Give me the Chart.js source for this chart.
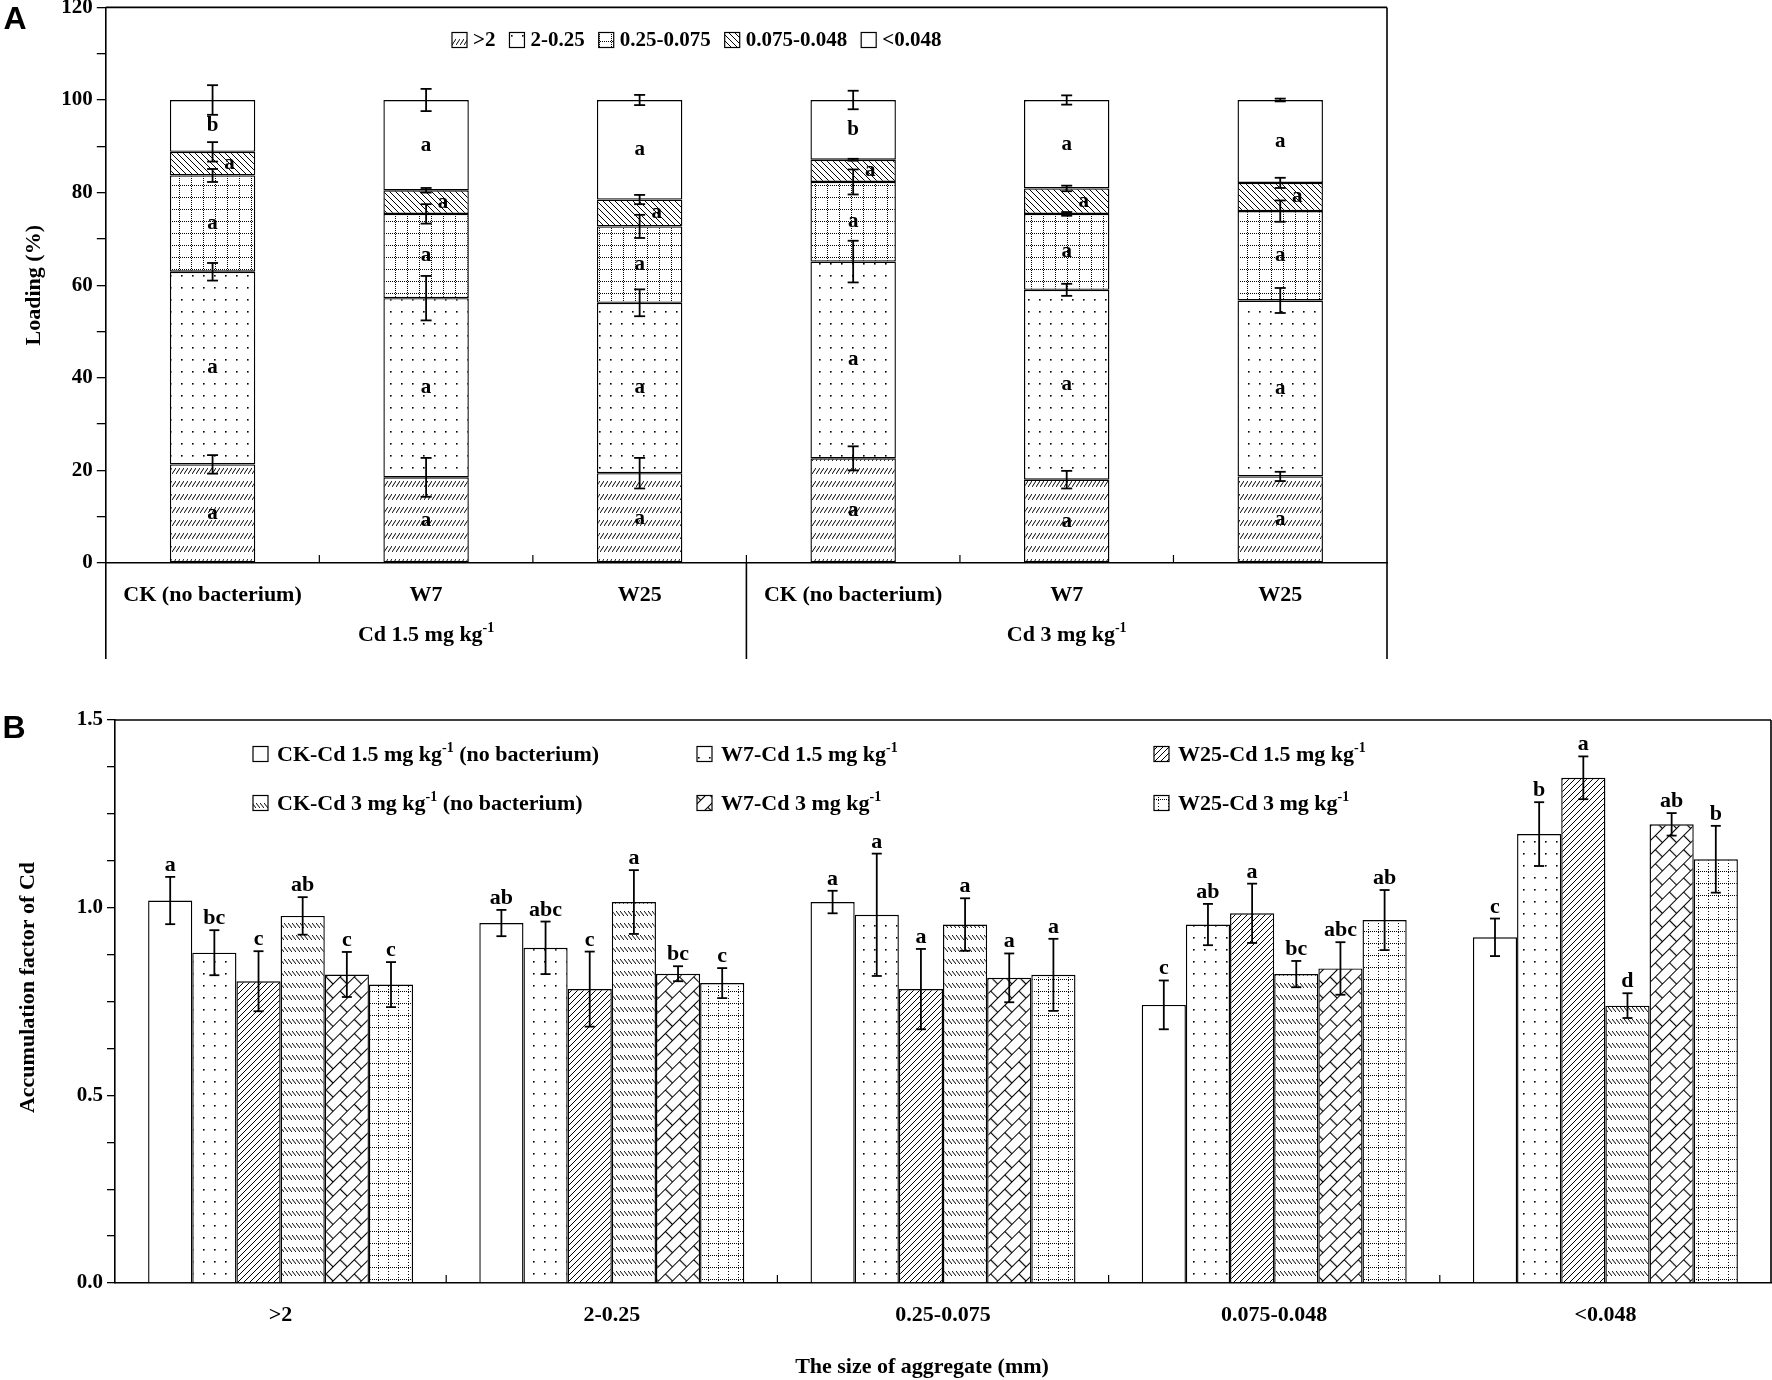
<!DOCTYPE html>
<html>
<head>
<meta charset="utf-8">
<script src="https://cdn.jsdelivr.net/npm/chart.js@4.4.0/dist/chart.umd.min.js"></script>
<style>
html,body{margin:0;padding:0;background:#fff;}
#page{position:relative;width:1772px;height:1380px;overflow:hidden;background:#fff;}
.box{position:absolute;left:0;width:1772px;}
#boxA{top:-30px;height:720px;}
#boxB{top:680px;height:700px;}
</style>
</head>
<body>
<div id="page">
  <div class="box" id="boxA"><canvas id="chartA"></canvas></div>
  <div class="box" id="boxB"><canvas id="chartB"></canvas></div>
</div>
<script>
// ---- Panel A data: loading (%) of each aggregate fraction ----
const treatA = ['CK (no bacterium)','W7','W25','CK (no bacterium)','W7','W25'];
const groupA = ['Cd 1.5 mg kg','Cd 3 mg kg'];
const fracLabelsA = ['>2','2-0.25','0.25-0.075','0.075-0.048','<0.048'];
const gt2      = [21.3, 18.5, 19.4, 22.6, 18.0, 18.7];
const f2_025   = [41.6, 38.7, 36.8, 42.5, 41.0, 38.0];
const f025_0075= [20.8, 18.2, 16.5, 17.2, 16.4, 19.3];
const f0075_0048=[5.1, 5.1, 5.8, 4.8, 5.5, 6.1];
const lt0048   = [11.2, 19.5, 21.5, 12.9, 19.1, 17.9];
// error bars sit on the top of each segment
const errGt2      = [2.0, 4.2, 3.3, 2.6, 1.9, 1.0];
const err2_025    = [1.9, 4.8, 2.9, 4.5, 1.3, 2.7];
const err025_0075 = [1.4, 2.1, 2.5, 2.7, 0.4, 2.3];
const err0075_0048= [2.1, 0.5, 1.0, 0.2, 0.6, 1.1];
const errLt0048   = [3.2, 2.4, 1.1, 2.0, 1.0, 0.3];
const letGt2      = ['a','a','a','a','a','a'];
const let2_025    = ['a','a','a','a','a','a'];
const let025_0075 = ['a','a','a','a','a','a'];
const let0075_0048= ['a','a','a','a','a','a'];
const letLt0048   = ['b','a','a','b','a','a'];
const yTicksA = {min:0, max:120, step:10, labelEvery:20};

// ---- Panel B data: accumulation factor of Cd ----
const sizesB = ['>2','2-0.25','0.25-0.075','0.075-0.048','<0.048'];
const ck15  = [1.019, 0.959, 1.015, 0.741, 0.921];
const w7_15 = [0.880, 0.893, 0.981, 0.955, 1.196];
const w25_15= [0.804, 0.783, 0.783, 0.985, 1.346];
const ck3   = [0.978, 1.015, 0.955, 0.823, 0.739];
const w7_3  = [0.822, 0.824, 0.813, 0.838, 1.222];
const w25_3 = [0.795, 0.799, 0.821, 0.967, 1.129];
const errCk15  = [0.063, 0.035, 0.030, 0.065, 0.050];
const errW7_15 = [0.060, 0.070, 0.163, 0.055, 0.085];
const errW25_15= [0.080, 0.100, 0.107, 0.079, 0.057];
const errCk3   = [0.050, 0.085, 0.070, 0.035, 0.033];
const errW7_3  = [0.060, 0.020, 0.065, 0.070, 0.030];
const errW25_3 = [0.060, 0.040, 0.096, 0.080, 0.089];
const letCk15  = ['a','ab','a','c','c'];
const letW7_15 = ['bc','abc','a','ab','b'];
const letW25_15= ['c','c','a','a','a'];
const letCk3   = ['ab','a','a','bc','d'];
const letW7_3  = ['c','bc','a','abc','ab'];
const letW25_3 = ['c','c','a','ab','b'];
const legendB = [
  [{t:'CK-Cd 1.5 mg kg'},{t:'-1',sup:true},{t:' (no bacterium)'}],
  [{t:'W7-Cd 1.5 mg kg'},{t:'-1',sup:true}],
  [{t:'W25-Cd 1.5 mg kg'},{t:'-1',sup:true}],
  [{t:'CK-Cd 3 mg kg'},{t:'-1',sup:true},{t:' (no bacterium)'}],
  [{t:'W7-Cd 3 mg kg'},{t:'-1',sup:true}],
  [{t:'W25-Cd 3 mg kg'},{t:'-1',sup:true}]
];
const yTicksB = {min:0, max:1.5, step:0.125, labelEvery:0.5};

const SERIF = '"Liberation Serif", "Times New Roman", serif';
function font(sz){ return 'bold ' + sz + 'px ' + SERIF; }

// draw text with optional superscript pieces
function drawRich(ctx, segs, x, y, size, align){
  let w = 0;
  segs.forEach(s=>{ ctx.font = font(s.sup ? Math.round(size*0.62) : size); s.w = ctx.measureText(s.t).width; w += s.w; });
  let cx = align === 'center' ? x - w/2 : x;
  ctx.textAlign = 'left'; ctx.textBaseline = 'middle'; ctx.fillStyle = '#000';
  segs.forEach(s=>{
    ctx.font = font(s.sup ? Math.round(size*0.62) : size);
    ctx.fillText(s.t, cx, s.sup ? y - size*0.32 : y);
    cx += s.w;
  });
}
function line(ctx, x1, y1, x2, y2){ ctx.beginPath(); ctx.moveTo(x1,y1); ctx.lineTo(x2,y2); ctx.stroke(); }

// ---- fill patterns ----
function tile(w, h, fn){
  const c = document.createElement('canvas'); c.width = w; c.height = h;
  const g = c.getContext('2d');
  g.fillStyle = '#fff'; g.fillRect(0,0,w,h);
  g.strokeStyle = '#000'; g.fillStyle = '#000'; g.lineWidth = 1;
  fn(g); return c;
}
function makePatterns(ctx){
  const P = {};
  P.white = '#fff';
  P.shortFwd = ctx.createPattern(tile(4,13,g=>{ g.beginPath(); g.moveTo(0,10); g.lineTo(4,4); g.stroke(); }),'repeat');
  P.shortBack = ctx.createPattern(tile(4,12,g=>{ g.beginPath(); g.moveTo(0,3); g.lineTo(4,8); g.stroke(); }),'repeat');
  P.dots = ctx.createPattern(tile(11,12,g=>{ g.fillRect(5,5,1.6,1.6); }),'repeat');
  P.dotGrid = ctx.createPattern(tile(12,12,g=>{
    for(let i=0;i<12;i+=2){ g.fillRect(i,11,1,1); g.fillRect(11,i,1,1); }
  }),'repeat');
  P.grid2 = ctx.createPattern(tile(10,12,g=>{
    for(let i=0;i<10;i+=2){ g.fillRect(i,11,1,1.2); }
    for(let i=0;i<12;i+=3){ g.fillRect(8,i,1,1); }
  }),'repeat');
  P.back = ctx.createPattern(tile(6,6,g=>{
    g.beginPath(); g.moveTo(-1,-1); g.lineTo(7,7); g.moveTo(-1,5); g.lineTo(1,7); g.moveTo(5,-1); g.lineTo(7,1); g.stroke();
  }),'repeat');
  P.fwd = ctx.createPattern(tile(6,6,g=>{
    g.beginPath(); g.moveTo(-1,7); g.lineTo(7,-1); g.moveTo(-1,1); g.lineTo(1,-1); g.moveTo(5,7); g.lineTo(7,5); g.stroke();
  }),'repeat');
  P.brick = ctx.createPattern(tile(20,20,g=>{
    g.lineWidth = 1.2;
    g.beginPath(); g.moveTo(0,0.5); g.lineTo(20,0.5); g.moveTo(0,10.5); g.lineTo(20,10.5);
    g.moveTo(0.5,0); g.lineTo(0.5,10.5); g.moveTo(10.5,10.5); g.lineTo(10.5,20); g.stroke();
  }),'repeat');
  try{ P.brick.setTransform(new DOMMatrix().rotate(-45)); }catch(e){ console.error(e); }
  return P;
}

const ctxA = document.getElementById('chartA').getContext('2d');
const ctxB = document.getElementById('chartB').getContext('2d');
const PA = makePatterns(ctxA);
const PB = makePatterns(ctxB);

const fracA = [gt2, f2_025, f025_0075, f0075_0048, lt0048];
const errA = [errGt2, err2_025, err025_0075, err0075_0048, errLt0048];
const letA = [letGt2, let2_025, let025_0075, let0075_0048, letLt0048];
const fillA = [PA.shortFwd, PA.dots, PA.dotGrid, PA.back, PA.white];

const seriesB = [ck15, w7_15, w25_15, ck3, w7_3, w25_3];
const errB = [errCk15, errW7_15, errW25_15, errCk3, errW7_3, errW25_3];
const letB = [letCk15, letW7_15, letW25_15, letCk3, letW7_3, letW25_3];
const fillB = [PB.white, PB.dots, PB.fwd, PB.shortBack, PB.brick, PB.grid2];

const tickFont = {family: SERIF, weight: 'bold', size: 21};

// ---- Panel A extras: error bars, letters, frame, legend ----
const annotA = {
  id: 'annotA',
  afterDatasetsDraw(chart){
    const {ctx, scales:{x, y}} = chart;
    ctx.save();
    ctx.strokeStyle = '#000'; ctx.lineWidth = 1.8; ctx.fillStyle = '#000';
    treatA.forEach((t, i)=>{
      let cum = 0;
      fracA.forEach((f, k)=>{
        const base = cum; cum += f[i];
        const px = x.getPixelForValue(i);
        const y1 = y.getPixelForValue(cum + errA[k][i]), y2 = y.getPixelForValue(cum - errA[k][i]);
        line(ctx, px, y1, px, y2); line(ctx, px-5.5, y1, px+5.5, y1); line(ctx, px-5.5, y2, px+5.5, y2);
        ctx.font = font(21); ctx.textAlign = 'center'; ctx.textBaseline = 'middle';
        const lx = k === 3 ? px + 17 : px;
        ctx.fillText(letA[k][i], lx, y.getPixelForValue(base + f[i]/2));
      });
    });
    ctx.restore();
  },
  afterDraw(chart){
    const {ctx, chartArea:a, scales:{x}} = chart;
    const low = 689;
    ctx.save();
    ctx.strokeStyle = '#000'; ctx.lineWidth = 1.6;
    line(ctx, a.left, a.top, a.right, a.top);
    line(ctx, a.right, a.top, a.right, low);
    line(ctx, a.left, a.bottom, a.left, low);
    const sep = x.getPixelForValue(2.5);
    line(ctx, sep, a.bottom, sep, low);
    ctx.lineWidth = 1.2;
    for(let i=1;i<treatA.length;i++){ const px = x.getPixelForValue(i-0.5); line(ctx, px, a.bottom, px, a.bottom-8); }
    // group labels
    groupA.forEach((g, j)=>{ drawRich(ctx, [{t:g},{t:'-1',sup:true}], x.getPixelForValue(1 + j*3), 665, 22, 'center'); });
    // legend
    let lx = 452; const ly = 70;
    fracLabelsA.forEach((lab, k)=>{
      ctx.fillStyle = fillA[k]; ctx.fillRect(lx, ly-7.5, 15, 15);
      ctx.lineWidth = 1.2; ctx.strokeRect(lx, ly-7.5, 15, 15);
      ctx.fillStyle = '#000'; ctx.font = font(21); ctx.textAlign = 'left'; ctx.textBaseline = 'middle';
      ctx.fillText(lab, lx + 21, ly + 1);
      lx += 21 + ctx.measureText(lab).width + 14;
    });
    // y title
    ctx.save(); ctx.translate(34, (a.top + a.bottom)/2); ctx.rotate(-Math.PI/2);
    ctx.font = font(22); ctx.textAlign = 'center'; ctx.textBaseline = 'middle'; ctx.fillText('Loading (%)', 0, 0);
    ctx.restore();
    // panel letter
    ctx.font = 'bold 32px "Liberation Sans", Arial, sans-serif'; ctx.textAlign = 'center'; ctx.textBaseline = 'middle';
    ctx.fillText('A', 15, 50);
    ctx.restore();
  }
};

new Chart(ctxA, {
  type: 'bar',
  data: {
    labels: treatA,
    datasets: fracA.map((f, k)=>({
      label: fracLabelsA[k], data: f, backgroundColor: fillA[k],
      borderColor: '#000', borderWidth: 1.4, borderSkipped: false,
      barPercentage: 0.4, categoryPercentage: 1
    }))
  },
  options: {
    responsive: true, maintainAspectRatio: false, animation: false,
    layout: {padding: {top: 37.4, right: 385, left: 0, bottom: 0}},
    plugins: {legend: {display: false}, tooltip: {enabled: false}},
    scales: {
      x: {
        stacked: true,
        grid: {display: false},
        border: {display: true, color: '#000', width: 1.6},
        ticks: {color: '#000', font: {family: SERIF, weight: 'bold', size: 22}, padding: 11, maxRotation: 0, autoSkip: false},
        afterFit: s=>{ s.height = 127; }
      },
      y: {
        stacked: true, min: yTicksA.min, max: yTicksA.max,
        ticks: {stepSize: yTicksA.step, color: '#000', font: tickFont, padding: 4,
          callback: v => (v % yTicksA.labelEvery === 0 ? String(v) : '')},
        grid: {drawOnChartArea: false, drawTicks: true, tickLength: 9, color: '#000', tickColor: '#000', lineWidth: 1.3},
        border: {display: true, color: '#000', width: 1.6},
        afterFit: s=>{ s.width = 105.8; }
      }
    }
  },
  plugins: [annotA]
});

// ---- Panel B extras ----
const annotB = {
  id: 'annotB',
  afterDatasetsDraw(chart){
    const {ctx, scales:{y}} = chart;
    ctx.save();
    ctx.strokeStyle = '#000'; ctx.lineWidth = 1.8; ctx.fillStyle = '#000';
    seriesB.forEach((s, j)=>{
      const meta = chart.getDatasetMeta(j);
      s.forEach((v, i)=>{
        const px = meta.data[i].x;
        const y1 = y.getPixelForValue(v + errB[j][i]), y2 = y.getPixelForValue(v - errB[j][i]);
        line(ctx, px, y1, px, y2); line(ctx, px-5, y1, px+5, y1); line(ctx, px-5, y2, px+5, y2);
        ctx.font = font(22); ctx.textAlign = 'center'; ctx.textBaseline = 'alphabetic';
        ctx.fillText(letB[j][i], px, y1 - 6);
      });
    });
    ctx.restore();
  },
  afterDraw(chart){
    const {ctx, chartArea:a, scales:{x}} = chart;
    ctx.save();
    ctx.strokeStyle = '#000'; ctx.lineWidth = 1.6;
    line(ctx, a.left, a.top, a.right, a.top);
    line(ctx, a.right, a.top, a.right, a.bottom);
    ctx.lineWidth = 1.2;
    for(let i=1;i<sizesB.length;i++){ const px = x.getPixelForValue(i-0.5); line(ctx, px, a.bottom, px, a.bottom-8); }
    // legend, 3 columns x 2 rows
    const cols = [253, 697, 1154], rows = [74, 123];
    legendB.forEach((segs, j)=>{
      const bx = cols[j % 3], by = rows[Math.floor(j / 3)];
      ctx.fillStyle = fillB[j]; ctx.fillRect(bx, by-7.5, 15, 15);
      ctx.lineWidth = 1.2; ctx.strokeRect(bx, by-7.5, 15, 15);
      drawRich(ctx, segs.map(s=>Object.assign({}, s)), bx + 24, by + 1, 22, 'left');
    });
    // axis titles
    ctx.fillStyle = '#000';
    ctx.save(); ctx.translate(28, (a.top + a.bottom)/2 - 14); ctx.rotate(-Math.PI/2);
    ctx.font = font(22); ctx.textAlign = 'center'; ctx.textBaseline = 'middle'; ctx.fillText('Accumulation factor of Cd', 0, 0);
    ctx.restore();
    ctx.font = font(22); ctx.textAlign = 'center'; ctx.textBaseline = 'middle';
    ctx.fillText('The size of aggregate (mm)', 922, 687);
    ctx.font = 'bold 32px "Liberation Sans", Arial, sans-serif';
    ctx.fillText('B', 14, 49);
    ctx.restore();
  }
};

new Chart(ctxB, {
  type: 'bar',
  data: {
    labels: sizesB,
    datasets: seriesB.map((s, j)=>({
      label: legendB[j].map(p=>p.t).join(''), data: s, backgroundColor: fillB[j],
      borderColor: '#000', borderWidth: 1.4,
      barPercentage: 1, categoryPercentage: 0.8
    }))
  },
  options: {
    responsive: true, maintainAspectRatio: false, animation: false,
    layout: {padding: {top: 40, right: 1, left: 0, bottom: 0}},
    plugins: {legend: {display: false}, tooltip: {enabled: false}},
    scales: {
      x: {
        grid: {display: false},
        border: {display: true, color: '#000', width: 1.6},
        ticks: {color: '#000', font: {family: SERIF, weight: 'bold', size: 22}, padding: 11, maxRotation: 0, autoSkip: false},
        afterFit: s=>{ s.height = 97; }
      },
      y: {
        min: yTicksB.min, max: yTicksB.max,
        ticks: {stepSize: yTicksB.step, color: '#000', font: tickFont, padding: 4,
          callback: v => {
            const r = v / yTicksB.labelEvery;
            return Math.abs(r - Math.round(r)) < 1e-6 ? v.toFixed(1) : '';
          }},
        grid: {drawOnChartArea: false, drawTicks: true, tickLength: 8, color: '#000', tickColor: '#000', lineWidth: 1.3},
        border: {display: true, color: '#000', width: 1.6},
        afterFit: s=>{ s.width = 115; }
      }
    }
  },
  plugins: [annotB]
});
</script>
</body>
</html>
